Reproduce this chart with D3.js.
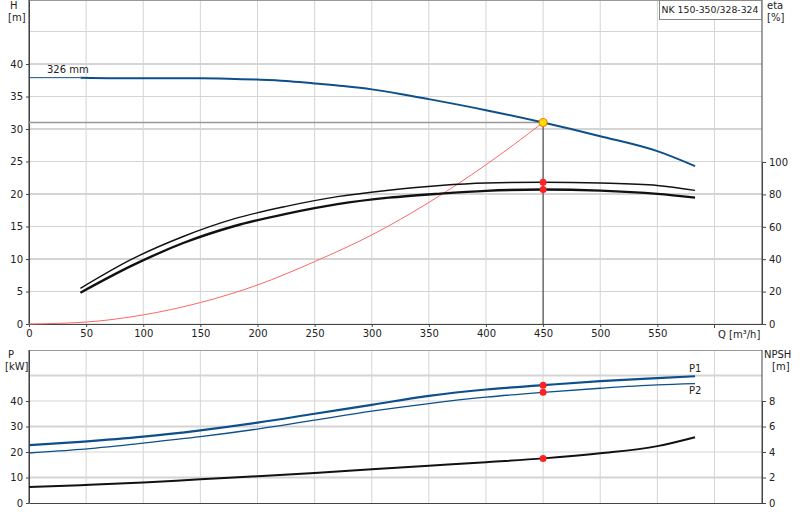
<!DOCTYPE html>
<html><head><meta charset="utf-8">
<script src="https://cdn.jsdelivr.net/npm/d3@7"></script>
<style>body{margin:0;background:#fff}text{font-family:"DejaVu Sans",Arial,sans-serif;font-size:10px;fill:#222}</style>
</head><body><svg id="c" width="800" height="520"></svg>
<script>
const qTicks=[0,50,100,150,200,250,300,350,400,450,500,550];
const hTicks=[0,5,10,15,20,25,30,35,40];
const etaTicks=[0,20,40,60,80,100];
const pTicks=[0,10,20,30,40];
const npshTicks=[0,2,4,6,8];
const hQ=[45,100,150,180,200,225,250,275,300,325,350,400,450,500,550,583];
const hVal=[37.9,37.8,37.8,37.7,37.6,37.4,37.0,36.6,36.1,35.4,34.6,32.9,31.0,28.9,26.6,24.3];
const etaQ=[45,90,135,180,225,270,315,360,400,450,500,550,583];
const eta1=[22,40,54,65,72.6,78.6,82.6,85.5,87,87.5,87,85.5,82.5];
const eta2=[19.3,36,50,60.5,68,74,78,80.5,82.2,83,82.3,80.3,78];
const sysQ=[0,50,100,150,200,250,300,350,400,450];
const sysH=[0,0.3,1.4,3.3,6,9.6,13.7,18.7,24.5,31];
const pQ=[0,45,100,150,200,250,300,350,400,450,500,550,583];
const p1=[22.7,24,26,28.5,31.5,35,38.5,42,44.5,46.2,47.8,49,49.7];
const p2=[19.6,21,23.5,26,29,32.5,36,39,41.5,43.4,45,46.3,46.8];
const npsh=[1.26,1.4,1.6,1.86,2.1,2.36,2.64,2.92,3.2,3.5,3.9,4.46,5.16];
const op={q:450,h:31,eta1:87.5,eta2:83,p1:46.2,p2:43.4,npsh:3.5};

const svg=d3.select("#c");
const x=d3.scaleLinear().domain([0,641.6]).range([29,762]);
const yH=d3.scaleLinear().domain([0,49.85]).range([324,0]);
const yE=d3.scaleLinear().domain([0,100]).range([324,162]);
const yP=d3.scaleLinear().domain([0,60]).range([503,350]);
const yN=d3.scaleLinear().domain([0,8]).range([503,401]);
const grid="#d4d4d4";
[...qTicks,600].forEach(q=>svg.append("line").attr("x1",x(q)).attr("x2",x(q)).attr("y1",0).attr("y2",324).attr("stroke",grid));
[...hTicks,45].forEach(h=>svg.append("line").attr("x1",29).attr("x2",762).attr("y1",yH(h)).attr("y2",yH(h)).attr("stroke",grid).attr("stroke-width",h%10==0&&h>0?2:1));
svg.append("line").attr("x1",29).attr("x2",762).attr("y1",0.5).attr("y2",0.5).attr("stroke","#999");
[...qTicks,600].forEach(q=>svg.append("line").attr("x1",x(q)).attr("x2",x(q)).attr("y1",350).attr("y2",503).attr("stroke",grid));
[10,20,30,40,50].forEach(p=>svg.append("line").attr("x1",29).attr("x2",762).attr("y1",yP(p)).attr("y2",yP(p)).attr("stroke",grid).attr("stroke-width",p%20==0?1:2));
svg.append("line").attr("x1",29).attr("x2",762).attr("y1",350.5).attr("y2",350.5).attr("stroke","#999");
const ax=(a,tx,ty)=>svg.append("g").attr("transform",`translate(${tx},${ty})`).call(a).call(s=>{s.selectAll("path,line").attr("stroke","#444");s.selectAll("text").style("font-size","10px")});
ax(d3.axisBottom(x).tickValues(qTicks).tickSize(3).tickSizeOuter(0),0,324);
svg.append("line").attr("x1",x(600)).attr("x2",x(600)).attr("y1",324).attr("y2",328).attr("stroke","#444");
ax(d3.axisLeft(yH).tickValues(hTicks).tickSize(3).tickSizeOuter(0),29,0);
ax(d3.axisRight(yE).tickValues(etaTicks).tickSize(4).tickSizeOuter(0),762,0);
svg.append("line").attr("x1",762).attr("x2",762).attr("y1",0).attr("y2",324).attr("stroke","#444");
ax(d3.axisBottom(x).tickValues([]).tickSizeOuter(0),0,503);
ax(d3.axisLeft(yP).tickValues(pTicks).tickSize(3).tickSizeOuter(0),29,0);
ax(d3.axisRight(yN).tickValues(npshTicks).tickSize(4).tickSizeOuter(0),762,0);
svg.append("line").attr("x1",29).attr("x2",29).attr("y1",350).attr("y2",503).attr("stroke","#444");
svg.append("line").attr("x1",762).attr("x2",762).attr("y1",350).attr("y2",503).attr("stroke","#444");
svg.append("line").attr("x1",29).attr("x2",29).attr("y1",0).attr("y2",324).attr("stroke","#444");
const t=(s,xx,yy,a,fs)=>svg.append("text").attr("x",xx).attr("y",yy).attr("text-anchor",a||"start").style("font-size",(fs||10)+"px").text(s);
t("H",10,9);t("[m]",8,21);t("eta",767,9);t("[%]",767,21);
t("Q [m³/h]",718,338);t("326 mm",47,73);
t("P",8,358);t("[kW]",5,370);t("NPSH",764,358);t("[m]",772,370);
t("P1",689,372);t("P2",689,394);
svg.append("rect").attr("x",659.5).attr("y",0.5).attr("width",102).attr("height",19).attr("fill","#fff").attr("stroke","#888");
t("NK 150-350/328-324",710,13,"middle",9.3);
const L=(xs,ys,sx,sy)=>d3.line().x((d,i)=>sx(xs[i])).y((d,i)=>sy(ys[i])).curve(d3.curveMonotoneX)(xs);
const path=(d,c,w)=>svg.append("path").attr("d",d).attr("fill","none").attr("stroke",c).attr("stroke-width",w);
svg.append("line").attr("x1",29).attr("x2",x(op.q)).attr("y1",yH(op.h)).attr("y2",yH(op.h)).attr("stroke","#999").attr("stroke-width",1.5);
svg.append("line").attr("x1",x(op.q)).attr("x2",x(op.q)).attr("y1",yH(op.h)).attr("y2",324).attr("stroke","#333");
path(L(sysQ,sysH,x,yH),"#ff6666",1);
svg.append("line").attr("x1",29).attr("x2",x(45)).attr("y1",yH(hVal[0])).attr("y2",yH(hVal[0])).attr("stroke","#0d4f8b").attr("stroke-width",1);
path(L(hQ,hVal,x,yH),"#0d4f8b",2);
path(L(etaQ,eta1,x,yE),"#111",1.4);
path(L(etaQ,eta2,x,yE),"#111",2.4);
path(L(pQ,p1,x,yP),"#0d4f8b",2.2);
path(L(pQ,p2,x,yP),"#0d4f8b",1.3);
path(L(pQ,npsh,x,yN),"#111",2);
const dot=(cx,cy)=>svg.append("circle").attr("cx",cx).attr("cy",cy).attr("r",3.5).attr("fill","#ff2020");
dot(x(op.q),yE(op.eta1));dot(x(op.q),yE(op.eta2));
dot(x(op.q),yP(op.p1));dot(x(op.q),yP(op.p2));dot(x(op.q),yN(op.npsh));
svg.append("circle").attr("cx",x(op.q)).attr("cy",yH(op.h)).attr("r",4).attr("fill","#ffdd00").attr("stroke","#f08000").attr("stroke-width",1.2);
</script></body></html>
